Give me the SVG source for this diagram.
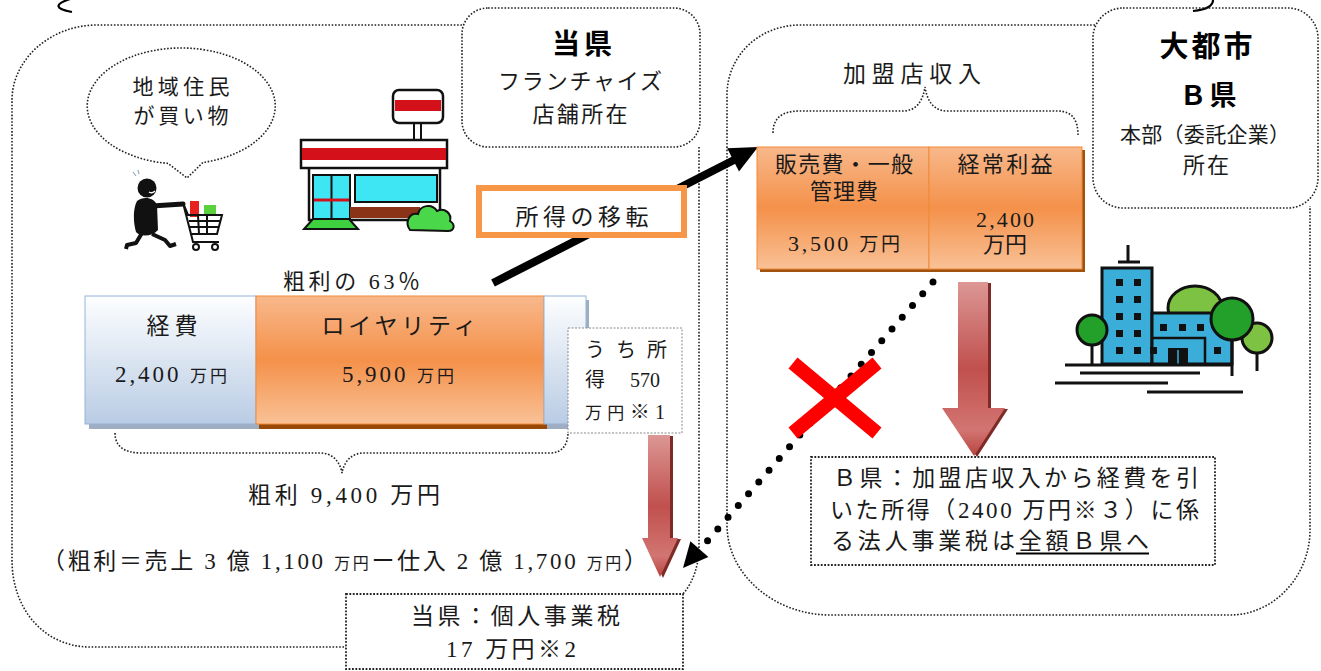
<svg xmlns="http://www.w3.org/2000/svg" width="1321" height="671" viewBox="0 0 1321 671">
  <defs>
    <style>
      .dot { fill: none; stroke: #222; stroke-width: 1.6; stroke-dasharray: 1.6 1.7; }
      .box { fill: #fff; stroke: #222; stroke-width: 1.8; stroke-dasharray: 1.8 1.6; }
      .t { font-family: "Liberation Serif", "Noto Sans CJK JP", serif; fill: #1a1a1a; }
      .c { text-anchor: middle; }
      .b { font-weight: bold; fill: #000; }
      .ink { fill: none; stroke: #111; stroke-width: 2; }
    </style>
    <linearGradient id="gOrange" x1="0" y1="0" x2="0" y2="1">
      <stop offset="0" stop-color="#f8b88b"/>
      <stop offset="0.5" stop-color="#f4914a"/>
      <stop offset="1" stop-color="#f9c196"/>
    </linearGradient>
    <linearGradient id="gBlue" x1="0" y1="0" x2="0" y2="1">
      <stop offset="0" stop-color="#fdfeff"/>
      <stop offset="1" stop-color="#b9cce4"/>
    </linearGradient>
    <linearGradient id="gRed" x1="0" y1="0" x2="0" y2="1">
      <stop offset="0" stop-color="#dc9795"/>
      <stop offset="0.5" stop-color="#c0504d"/>
      <stop offset="0.85" stop-color="#d27572"/>
      <stop offset="1" stop-color="#b8433f"/>
    </linearGradient>
  </defs>

  <!-- brace ends at the top edge -->
  <path d="M 70 -1 Q 46 7 72 12" fill="none" stroke="#000" stroke-width="2.2"/>
  <path d="M 1213 -1 Q 1214 9 1193 11" fill="none" stroke="#000" stroke-width="2.2"/>

  <!-- region outlines -->
  <g id="region-home">
    <path class="dot" d="M 462 25 L 97 25 C 50 25 12 60 12 100 L 12 560 C 12 610 45 647 90 647 L 346 647"/>
    <path class="dot" d="M 699 147 L 699 545 Q 699 575 683 594"/>
  </g>
  <g id="region-hq">
    <path class="dot" d="M 1095 25 L 800 25 C 760 25 727 55 727 95 L 727 525 C 727 575 775 615 830 615 L 1230 615 C 1275 615 1310 575 1310 530 L 1310 206"/>
  </g>

  <!-- label boxes -->
  <g id="home-label">
    <rect class="dot" x="462" y="8" width="238" height="139" rx="26"/>
    <text class="t c b" x="582" y="54" font-size="28" textLength="60">当県</text>
    <text class="t c" x="580" y="89" font-size="22" textLength="164">フランチャイズ</text>
    <text class="t c" x="580" y="122" font-size="22" textLength="95">店舗所在</text>
  </g>
  <g id="hq-label">
    <rect class="dot" x="1093" y="8" width="225" height="200" rx="30"/>
    <text class="t c b" x="1206" y="57" font-size="29" textLength="93">大都市</text>
    <text class="t c b" x="1208" y="105" font-size="27" textLength="57">Ｂ県</text>
    <text class="t c" x="1205" y="142" font-size="21" textLength="170">本部（委託企業）</text>
    <text class="t c" x="1206" y="173" font-size="22" textLength="46">所在</text>
  </g>

  <!-- speech bubble -->
  <g id="bubble">
    <path class="dot" d="M 168 163.4 A 94 58 0 1 1 203 162.4 L 187 178 Z" fill="#fff"/>
    <text class="t c" x="181" y="94" font-size="21" textLength="97">地域住民</text>
    <text class="t c" x="181" y="123" font-size="21" textLength="95">が買い物</text>
  </g>

  <!-- shopper with cart -->
  <g id="shopper">
    <path d="M 133 172 l 3 4 M 138 170 l 1 4" stroke="#9ab" stroke-width="1.2" fill="none"/>
    <circle cx="147" cy="188" r="9.5" fill="#111"/>
    <path d="M 149 192 q 3 2 6 -1" stroke="#fff" stroke-width="1.4" fill="none"/>
    <path d="M 137 201 C 143 196 154 197 157 205 L 158 230 C 152 237 140 237 136 232 C 133 222 133 208 137 201 Z" fill="#111"/>
    <line x1="152" y1="206" x2="183" y2="204" stroke="#111" stroke-width="5" stroke-linecap="round"/>
    <polyline points="142,233 136,243 127,245 126,249" fill="none" stroke="#111" stroke-width="4" stroke-linejoin="round"/>
    <polyline points="152,234 165,240 170,246 176,244" fill="none" stroke="#111" stroke-width="4" stroke-linejoin="round"/>
    <rect x="190" y="201" width="9" height="16" fill="#e8211e"/>
    <rect x="204" y="205" width="12" height="10" fill="#5bd13d"/>
    <path class="ink" d="M 183 203 L 188 215 L 222 215 L 217 234 L 191 234 Z" fill="#fff"/>
    <path class="ink" stroke-width="1.5" d="M 189 221 L 220 221 M 190 227 L 219 227 M 198 215 L 199 234 M 207 215 L 207 234"/>
    <polyline class="ink" points="191,234 193,242 219,242"/>
    <circle class="ink" cx="196" cy="247" r="3"/>
    <circle class="ink" cx="215" cy="247" r="3"/>
  </g>

  <!-- convenience store -->
  <g id="store">
    <rect x="414" y="122" width="7" height="19" fill="#fff" stroke="#111" stroke-width="2"/>
    <rect x="393" y="90" width="50" height="33" rx="6" fill="#fff" stroke="#111" stroke-width="2.5"/>
    <rect x="395" y="100" width="46" height="11" fill="#d4101a"/>
    <rect x="309" y="166" width="131" height="54" fill="#fff" stroke="#111" stroke-width="2.5"/>
    <rect x="301" y="140" width="146" height="28" fill="#fff" stroke="#111" stroke-width="2.5"/>
    <rect x="302" y="148" width="144" height="12" fill="#d4101a"/>
    <rect x="313" y="175" width="37" height="44" fill="#3ee6f4" stroke="#111" stroke-width="2"/>
    <line x1="331.5" y1="175" x2="331.5" y2="219" stroke="#111" stroke-width="2"/>
    <line x1="314" y1="200" x2="349" y2="200" stroke="#d4101a" stroke-width="3"/>
    <rect x="355" y="175" width="82" height="27" fill="#3ee6f4" stroke="#111" stroke-width="2"/>
    <rect x="350" y="207" width="70" height="11" fill="#8b3316"/>
    <polygon points="313,219 349,219 358,229 304,229" fill="#3ed03e" stroke="#111" stroke-width="2"/>
    <path d="M 410 230 C 404 222 410 212 418 214 C 420 205 432 203 437 211 C 445 207 452 214 450 221 C 456 225 454 231 448 231 Z" fill="#4ad84a" stroke="#111" stroke-width="2"/>
  </g>

  <!-- head office building -->
  <g id="building">
    <ellipse cx="1195" cy="308" rx="27" ry="22" fill="#7dc242" stroke="#111" stroke-width="3"/>
    <line x1="1128" y1="245" x2="1128" y2="262" stroke="#111" stroke-width="3"/>
    <line x1="1118" y1="262" x2="1140" y2="262" stroke="#111" stroke-width="3"/>
    <rect x="1102" y="268" width="50" height="96" fill="#3aaed8" stroke="#111" stroke-width="3"/>
    <rect x="1152" y="313" width="80" height="51" fill="#3aaed8" stroke="#111" stroke-width="3"/>
    <path d="M 1152 338 L 1205 338 L 1205 364" fill="none" stroke="#111" stroke-width="2.5"/>
    <g fill="#111">
      <rect x="1116" y="279" width="7" height="7"/><rect x="1134" y="279" width="7" height="7"/>
      <rect x="1116" y="296" width="7" height="7"/><rect x="1134" y="296" width="7" height="7"/>
      <rect x="1116" y="313" width="7" height="7"/><rect x="1134" y="313" width="7" height="7"/>
      <rect x="1116" y="330" width="7" height="7"/><rect x="1134" y="330" width="7" height="7"/>
      <rect x="1116" y="347" width="7" height="7"/><rect x="1134" y="347" width="7" height="7"/>
      <rect x="1150" y="347" width="7" height="7"/>
      <rect x="1160" y="324" width="7" height="7"/><rect x="1179" y="324" width="7" height="7"/><rect x="1197" y="324" width="7" height="7"/>
      <rect x="1214" y="347" width="7" height="7"/>
      <rect x="1168" y="348" width="20" height="16"/>
    </g>
    <line x1="1178" y1="350" x2="1178" y2="364" stroke="#3aaed8" stroke-width="1.5"/>
    <line x1="1092" y1="340" x2="1092" y2="365" stroke="#111" stroke-width="3"/>
    <circle cx="1092" cy="330" r="15" fill="#22a02a" stroke="#111" stroke-width="3"/>
    <line x1="1257" y1="345" x2="1257" y2="371" stroke="#111" stroke-width="3"/>
    <circle cx="1257" cy="338" r="15" fill="#7dc242" stroke="#111" stroke-width="3"/>
    <line x1="1232" y1="330" x2="1232" y2="376" stroke="#111" stroke-width="3"/>
    <circle cx="1232" cy="319" r="21" fill="#22a02a" stroke="#111" stroke-width="3"/>
    <g stroke="#111" stroke-width="3">
      <line x1="1065" y1="365" x2="1233" y2="365"/>
      <line x1="1080" y1="373" x2="1200" y2="373"/>
      <line x1="1055" y1="383" x2="1168" y2="383"/>
      <line x1="1147" y1="392" x2="1243" y2="392"/>
    </g>
  </g>

  <!-- connectors -->
  <g id="connectors">
    <!-- income transfer arrow -->
    <line x1="493" y1="283" x2="734" y2="160" stroke="#000" stroke-width="8"/>
    <polygon points="758,147 739,171.4 727.2,148.2" fill="#000"/>
    <!-- dotted flow that does not happen -->
    <line x1="933" y1="282" x2="703" y2="546" stroke="#000" stroke-width="7" stroke-linecap="round" stroke-dasharray="0 15.6"/>
    <polygon points="683,568 708.4,557.1 690.4,541.3" fill="#000"/>
    <!-- tax arrows -->
    <polygon points="651,436 673,436 673,539 681,539 663,578 645,539 651,539" fill="#7e2a27"/>
    <polygon points="648,435 670,435 670,538 678,538 660,577 642,538 648,538" fill="url(#gRed)"/>
    <polygon points="961,283 991,283 991,409 1008,409 977,457 945,409 961,409" fill="#7e2a27"/>
    <polygon points="958,282 988,282 988,408 1005,408 974,456 942,408 958,408" fill="url(#gRed)"/>
    <!-- braces -->
    <path class="dot" d="M 115 433 C 115 447 125 453 142 453 L 320 453 C 333 453 340 462 342 473 C 344 462 351 453 364 453 L 550 453 C 562 453 568 445 568 432"/>
    <path class="dot" d="M 773 133 C 773 118 782 111 800 111 L 903 111 C 917 111 923 100 925 87 C 927 100 933 111 947 111 L 1058 111 C 1072 111 1078 120 1078 135"/>
  </g>

  <!-- red cross over the dotted flow -->
  <g id="cross" stroke="#ff0000" stroke-width="14">
    <line x1="793" y1="363" x2="877" y2="433"/>
    <line x1="877" y1="363" x2="793" y2="433"/>
  </g>

  <!-- transfer label -->
  <g id="transfer">
    <rect x="479" y="188" width="205" height="47" fill="#fff" stroke="#f79646" stroke-width="6"/>
    <text class="t c" x="582" y="225" font-size="23" textLength="133">所得の移転</text>
  </g>

  <text class="t" x="283" y="289" font-size="22" textLength="137">粗利の 63％</text>

  <!-- franchise gross profit bar -->
  <g id="bar-store">
    <rect x="89" y="300" width="500" height="129" fill="#9eadc2"/>
    <rect x="259" y="300" width="288" height="129" fill="#984807"/>
    <rect x="85" y="296" width="171" height="128" fill="url(#gBlue)" stroke="#95b3d7" stroke-width="1"/>
    <rect x="256" y="296" width="288" height="128" fill="url(#gOrange)" stroke="#f08a3a" stroke-width="1"/>
    <rect x="544" y="296" width="42" height="128" fill="url(#gBlue)" stroke="#95b3d7" stroke-width="1"/>
    <text class="t c" x="172" y="334" font-size="23" textLength="51">経費</text>
    <text class="t c" x="171" y="382" font-size="23" textLength="112">2,400 <tspan font-size="17">万円</tspan></text>
    <text class="t c" x="399" y="334" font-size="23" textLength="155">ロイヤリティ</text>
    <text class="t c" x="398" y="382" font-size="23" textLength="112">5,900 <tspan font-size="17">万円</tspan></text>
  </g>

  <g id="income-note">
    <rect x="568" y="328" width="114" height="105" fill="#fff" stroke="#888" stroke-width="1" stroke-dasharray="2 1.5"/>
    <text class="t" x="585" y="357" font-size="20" textLength="82">うち所</text>
    <text class="t" font-size="20" y="387"><tspan x="585">得</tspan> <tspan x="630">570</tspan></text>
    <text class="t" x="585" y="419" font-size="20" textLength="80"><tspan font-size="17">万円</tspan>※1</text>
  </g>

  <text class="t c" x="344" y="503" font-size="23" textLength="192">粗利 9,400 万円</text>
  <text class="t" x="42" y="569" font-size="23" textLength="605">（粗利＝売上 3 億 1,100 <tspan font-size="16">万円</tspan>ー仕入 2 億 1,700 <tspan font-size="16">万円</tspan>）</text>

  <g id="home-tax">
    <rect class="box" x="346" y="594" width="337" height="75"/>
    <text class="t" x="411" y="624" font-size="23" textLength="209">当県：個人事業税</text>
    <text class="t" x="446" y="657" font-size="23" textLength="130">17 万円※2</text>
  </g>

  <!-- franchise fee income bar -->
  <g id="bar-hq">
    <text class="t" x="843" y="82" font-size="23" textLength="138">加盟店収入</text>
    <rect x="760" y="150" width="325" height="122" fill="#a0520f"/>
    <rect x="757" y="147" width="172" height="122" fill="url(#gOrange)" stroke="#f08a3a" stroke-width="1"/>
    <rect x="929" y="147" width="153" height="122" fill="url(#gOrange)" stroke="#f08a3a" stroke-width="1"/>
    <text class="t c" x="844" y="172" font-size="22" textLength="138">販売費・一般</text>
    <text class="t c" x="844" y="199" font-size="22" textLength="68">管理費</text>
    <text class="t c" x="844" y="251" font-size="22" textLength="112">3,500 <tspan font-size="19">万円</tspan></text>
    <text class="t c" x="1005" y="172" font-size="22" textLength="95">経常利益</text>
    <text class="t c" x="1005" y="227" font-size="22" textLength="58">2,400</text>
    <text class="t c" x="1005" y="252" font-size="22" textLength="44">万円</text>
  </g>

  <g id="hq-tax">
    <rect class="box" x="811" y="457" width="404" height="108"/>
    <text class="t" x="833" y="486" font-size="23" textLength="366">Ｂ県：加盟店収入から経費を引</text>
    <text class="t" x="830" y="518" font-size="23" textLength="369">いた所得（2400 万円※３）に係</text>
    <text class="t" x="831" y="549" font-size="23" textLength="318">る法人事業税は全額Ｂ県へ</text>
    <line x1="1016" y1="553.5" x2="1149" y2="553.5" stroke="#000" stroke-width="1.8"/>
  </g>
</svg>
